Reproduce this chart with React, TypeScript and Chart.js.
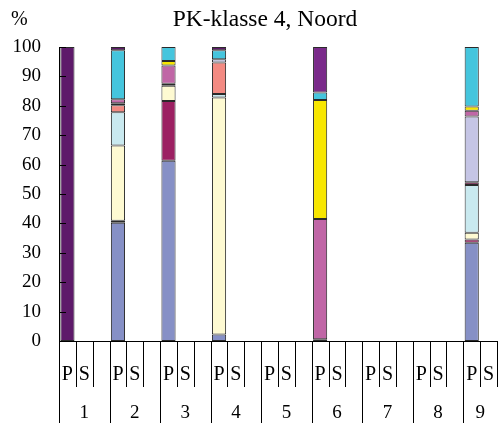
import React, { useEffect, useRef } from "react";
import { Chart, registerables } from "chart.js";

Chart.register(...registerables);

// Gebieden (groepen) en de twee kolommen per gebied
const groups = ["1", "2", "3", "4", "5", "6", "7", "8", "9"];
const columns = ["P", "S"];

// Aandelen (%) per categorie, per gebied, kolom P (kolom S is leeg)
const blue = [0, 40.2, 61.3, 2.2, 0, 0.6, 0, 0, 33.4];
const maroon = [0, 0.7, 20.3, 0, 0, 0, 0, 0, 1.1];
const cream = [0, 25.6, 5.2, 80.6, 0, 0, 0, 0, 2.3];
const lightCyan = [0, 11.3, 0, 1.2, 0, 0, 0, 0, 16.3];
const wine = [0, 0, 0, 0, 0, 0, 0, 0, 0.9];
const salmon = [0, 2.4, 0, 10.7, 0, 0, 0, 0, 0];
const lavender = [0, 0.7, 0.7, 1.1, 0, 0, 0, 0, 22.4];
const mauve = [0, 1.3, 6.2, 0, 0, 40.9, 0, 0, 1.9];
const yellow = [0, 0, 1.5, 0, 0, 40.5, 0, 0, 1.5];
const cyan = [0, 16.7, 4.8, 3.1, 0, 2.5, 0, 0, 20.2];
const purple = [0, 0, 0, 0, 0, 15.5, 0, 0, 0];
const darkPurple = [100, 1.1, 0, 1.1, 0, 0, 0, 0, 0];

const yTicks = [0, 10, 20, 30, 40, 50, 60, 70, 80, 90, 100];

const title = "PK-klasse 4, Noord";
const unit = "%";

const SERIF = "'Liberation Serif', 'Times New Roman', serif";

const series = [
  { name: "blue", values: blue, color: "#8690c6" },
  { name: "maroon", values: maroon, color: "#9c2062" },
  { name: "cream", values: cream, color: "#fefad2" },
  { name: "lightCyan", values: lightCyan, color: "#c9e9ef" },
  { name: "wine", values: wine, color: "#6e1a46" },
  { name: "salmon", values: salmon, color: "#f38a82" },
  { name: "lavender", values: lavender, color: "#c5c5e5" },
  { name: "mauve", values: mauve, color: "#c066a6" },
  { name: "yellow", values: yellow, color: "#f7e600" },
  { name: "cyan", values: cyan, color: "#45c5dd" },
  { name: "purple", values: purple, color: "#7a2a8a" },
  { name: "darkPurple", values: darkPurple, color: "#5e1a6a" },
];

// Slots: P, S and a spacer per group; the last group has no spacer
const slotLabels: string[] = [];
const slotGroup: number[] = [];
groups.forEach((_, gi) => {
  columns.forEach((c) => {
    slotLabels.push(c);
    slotGroup.push(gi);
  });
  if (gi < groups.length - 1) {
    slotLabels.push("");
    slotGroup.push(gi);
  }
});

function slotData(values: number[]) {
  return slotLabels.map((lab, i) =>
    lab === "P" && values[slotGroup[i]] > 0 ? values[slotGroup[i]] : null
  );
}

const decorPlugin = {
  id: "decor",
  afterDatasetsDraw(chart: any) {
    const { ctx, chartArea, scales } = chart;
    const x = scales.x;
    const y = scales.y;
    const n = slotLabels.length;
    ctx.save();
    ctx.strokeStyle = "#000";
    ctx.lineWidth = 1;

    // inward tick marks on the value axis
    yTicks.forEach((v) => {
      const py = Math.round(y.getPixelForValue(v)) + 0.5;
      ctx.beginPath();
      ctx.moveTo(chartArea.left, py);
      ctx.lineTo(chartArea.left + 7, py);
      ctx.stroke();
    });

    // slot and group separators below the axis
    const boundary = (i: number) => {
      if (i === 0) return chartArea.left;
      if (i === n) return chartArea.right;
      return (x.getPixelForValue(i - 1) + x.getPixelForValue(i)) / 2;
    };
    const groupStart: number[] = [];
    for (let i = 0; i <= n; i++) {
      const isGroup = i < n && (i === 0 || slotGroup[i] !== slotGroup[i - 1]);
      if (isGroup) groupStart.push(i);
      const px = Math.round(boundary(i)) + 0.5;
      ctx.beginPath();
      ctx.moveTo(px, chartArea.bottom);
      ctx.lineTo(px, isGroup ? 423 : 387);
      ctx.stroke();
    }

    // group numbers
    ctx.fillStyle = "#000";
    ctx.font = `19px ${SERIF}`;
    ctx.textAlign = "center";
    ctx.textBaseline = "alphabetic";
    groups.forEach((g, gi) => {
      const a = boundary(groupStart[gi]);
      const b = gi + 1 < groups.length ? boundary(groupStart[gi + 1]) : boundary(n);
      ctx.fillText(g, (a + b) / 2, 418);
    });

    // title and unit
    ctx.font = `23.5px ${SERIF}`;
    ctx.fillText(title, 265, 26);
    ctx.font = `20px ${SERIF}`;
    ctx.textAlign = "left";
    ctx.fillText(unit, 11, 25);
    ctx.restore();
  },
};

export default function App() {
  const ref = useRef<HTMLCanvasElement | null>(null);

  useEffect(() => {
    document.body.style.margin = "0";
    const canvas = ref.current;
    if (!canvas) return;
    const chart = new Chart(canvas, {
      type: "bar",
      data: {
        labels: slotLabels,
        datasets: series.map((s) => ({
          label: s.name,
          data: slotData(s.values),
          backgroundColor: s.color,
          borderColor: "#2a2a2a",
          borderWidth: 1,
          borderSkipped: false,
          categoryPercentage: 1,
          barPercentage: 0.84,
        })),
      },
      options: {
        responsive: false,
        animation: false,
        events: [],
        layout: { padding: { top: 47, right: 2, left: 0, bottom: 0 } },
        plugins: {
          legend: { display: false },
          title: { display: false },
          tooltip: { enabled: false },
        },
        scales: {
          x: {
            stacked: true,
            afterFit: (scale: any) => {
              scale.height = 84;
              scale.paddingLeft = 0;
              scale.paddingRight = 0;
            },
            grid: { display: false, drawTicks: false },
            border: { display: true, color: "#000", width: 1 },
            ticks: {
              autoSkip: false,
              maxRotation: 0,
              minRotation: 0,
              padding: 22,
              color: "#000",
              font: { family: SERIF, size: 20 },
            },
          },
          y: {
            stacked: true,
            min: 0,
            max: 100,
            afterFit: (scale: any) => {
              scale.width = 59;
            },
            afterBuildTicks: (scale: any) => {
              scale.ticks = yTicks.map((v) => ({ value: v }));
            },
            grid: { display: false, drawTicks: false },
            border: { display: true, color: "#000", width: 1 },
            ticks: {
              padding: 18,
              color: "#000",
              font: { family: SERIF, size: 19 },
            },
          },
        },
      },
      plugins: [decorPlugin],
    });
    return () => chart.destroy();
  }, []);

  return (
    <div style={{ position: "absolute", left: 0, top: 0, width: 499, height: 425, background: "#fff" }}>
      <canvas ref={ref} width={499} height={425} style={{ display: "block" }} />
    </div>
  );
}
